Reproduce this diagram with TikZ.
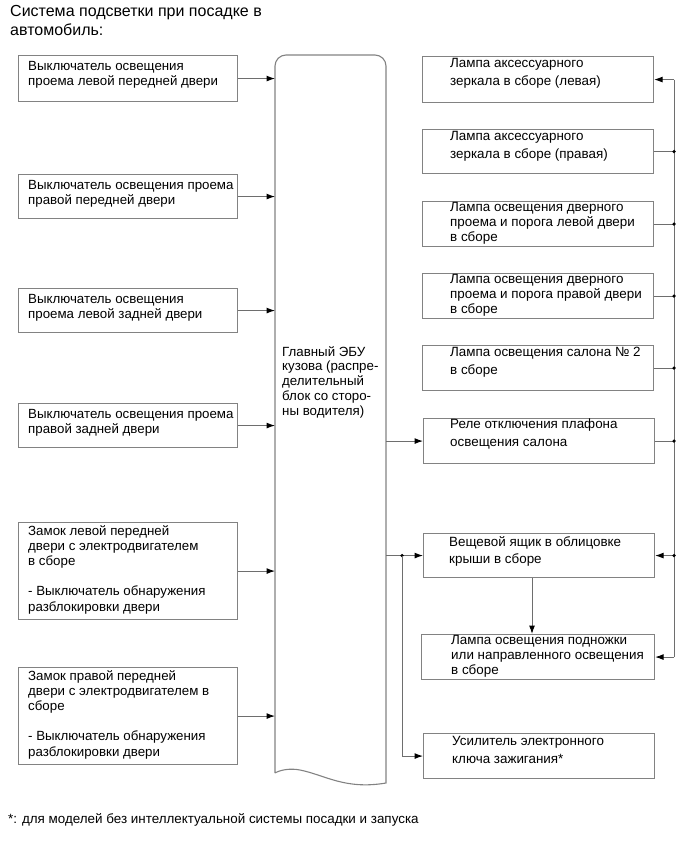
\documentclass[tikz,border=0pt]{standalone}
\usepackage{fontspec}
\setmainfont{Liberation Sans}
\usetikzlibrary{arrows.meta}
\definecolor{bcol}{RGB}{130,130,130}
\definecolor{lcol}{RGB}{110,110,110}
\begin{document}
\begin{tikzpicture}[x=1pt,y=-1pt,
  boxn/.style={draw=bcol, line width=1.1pt, anchor=north west, inner sep=0pt},
  tbase/.style={anchor=north west, inner sep=0pt, align=left, execute at begin node={\rule{0pt}{11pt}}},
  ltxt/.style={tbase, font=\fontsize{13.3pt}{15.2pt}\selectfont},
  rtxt/.style={tbase, font=\fontsize{13.4pt}{17.6pt}\selectfont},
  rtxtt/.style={tbase, font=\fontsize{13.4pt}{15pt}\selectfont},
  conn/.style={draw=lcol, line width=1pt},
  arr/.style={conn, -{Latex[length=8.5pt,width=6pt,color=black]}},
  dot/.style={circle, fill=black, inner sep=0pt, minimum size=3.6pt}
]
\useasboundingbox (0,0) rectangle (690,853);

% title
\node[anchor=north west, inner sep=0pt, align=left, font=\fontsize{16pt}{19.5pt}\selectfont,
  execute at begin node={\rule{0pt}{13pt}}] (title) at (10,5)
  {Система подсветки при посадке в\\автомобиль:};

% ECU
\node[anchor=north west, inner sep=0pt, minimum width=111pt, minimum height=728pt] (ecu) at (275,55) {};
\draw[draw=bcol, line width=1.1pt] (275,773) -- (275,66) arc[start angle=180, end angle=270, radius=11]
  -- (375,55) arc[start angle=270, end angle=360, radius=11] -- (386,783)
  .. controls (345,790) and (325,775) .. (300,770) .. controls (290,768) and (280,770) .. (275,773);
\node[ltxt, font=\fontsize{13.3pt}{14.8pt}\selectfont] (ecut) at (282,346)
  {Главный ЭБУ\\кузова (распре-\\делительный\\блок со сторо-\\ны водителя)};

% left boxes
\node[boxn, minimum width=219pt, minimum height=46pt] (L1) at (18,55) {};
\node[ltxt] (L1t) at ([xshift=10pt,yshift=-6pt]L1.north west) {Выключатель освещения\\проема левой передней двери};
\node[boxn, minimum width=219pt, minimum height=44pt] (L2) at (18,174) {};
\node[ltxt] (L2t) at ([xshift=10pt,yshift=-6pt]L2.north west) {Выключатель освещения проема\\правой передней двери};
\node[boxn, minimum width=219pt, minimum height=44pt] (L3) at (18,288) {};
\node[ltxt] (L3t) at ([xshift=10pt,yshift=-6pt]L3.north west) {Выключатель освещения\\проема левой задней двери};
\node[boxn, minimum width=219pt, minimum height=44pt] (L4) at (18,403) {};
\node[ltxt] (L4t) at ([xshift=10pt,yshift=-6pt]L4.north west) {Выключатель освещения проема\\правой задней двери};
\node[boxn, minimum width=219pt, minimum height=97pt] (L5) at (18,522) {};
\node[ltxt] (L5t) at ([xshift=10pt,yshift=-3pt]L5.north west) {Замок левой передней\\двери с электродвигателем\\в сборе\\[15.2pt]- Выключатель обнаружения\\разблокировки двери};
\node[boxn, minimum width=219pt, minimum height=97pt] (L6) at (18,667) {};
\node[ltxt] (L6t) at ([xshift=10pt,yshift=-3pt]L6.north west) {Замок правой передней\\двери с электродвигателем в\\сборе\\[15.2pt]- Выключатель обнаружения\\разблокировки двери};

\foreach \b in {L1,L2,L3,L4,L5,L6}
  \draw[arr] (\b.east) -- (\b.east -| ecu.west);

% right boxes
\node[boxn, minimum width=231pt, minimum height=46pt] (R1) at (422,56) {};
\node[rtxt] (R1t) at ([xshift=28pt,yshift=-2pt]R1.north west) {Лампа аксессуарного\\зеркала в сборе (левая)};
\node[boxn, minimum width=231pt, minimum height=44pt] (R2) at (422,129) {};
\node[rtxt] (R2t) at ([xshift=28pt,yshift=-2pt]R2.north west) {Лампа аксессуарного\\зеркала в сборе (правая)};
\node[boxn, minimum width=231pt, minimum height=45pt] (R3) at (422,201) {};
\node[rtxtt] (R3t) at ([xshift=28pt,yshift=-1pt]R3.north west) {Лампа освещения дверного\\проема и порога левой двери\\в сборе};
\node[boxn, minimum width=231pt, minimum height=45pt] (R4) at (422,273) {};
\node[rtxtt] (R4t) at ([xshift=28pt,yshift=-1pt]R4.north west) {Лампа освещения дверного\\проема и порога правой двери\\в сборе};
\node[boxn, minimum width=231pt, minimum height=45pt] (R5) at (422,345) {};
\node[rtxt] (R5t) at ([xshift=28pt,yshift=-2pt]R5.north west) {Лампа освещения салона № 2\\в сборе};
\node[boxn, minimum width=231pt, minimum height=45pt] (R6) at (423,418) {};
\node[rtxt] (R6t) at ([xshift=27pt,yshift=-1pt]R6.north west) {Реле отключения плафона\\освещения салона};
\node[boxn, minimum width=231pt, minimum height=44pt] (R7) at (423,533) {};
\node[rtxt] (R7t) at ([xshift=26pt,yshift=-3pt]R7.north west) {Вещевой ящик в облицовке\\крыши в сборе};
\node[boxn, minimum width=233pt, minimum height=45pt] (R8) at (421,634) {};
\node[rtxtt] (R8t) at ([xshift=30pt,yshift=-1pt]R8.north west) {Лампа освещения подножки\\или направленного освещения\\в сборе};
\node[boxn, minimum width=231pt, minimum height=45pt] (R9) at (423,733) {};
\node[rtxt] (R9t) at ([xshift=29pt,yshift=-3pt]R9.north west) {Усилитель электронного\\ключа зажигания*};

% ECU outputs
\draw[arr] (R6.west -| ecu.east) -- (R6.west);
\coordinate (fx) at (402,0);
\draw[arr] (R7.west -| ecu.east) -- (R7.west);
\node[dot] (fd) at (R7.west -| fx) {};
\draw[arr] (fd.center) -- (R9.west -| fx) -- (R9.west);
\coordinate (r7b) at (532,577);
\draw[arr] (r7b |- R7.south) -- (r7b |- R8.north);

% right bus
\coordinate (bx) at (674,0);
\draw[conn] (R1.east -| bx) -- (R8.east -| bx);
\draw[arr] (R1.east -| bx) -- (R1.east);
\draw[arr] (R8.east -| bx) -- (R8.east);
\draw[arr] (R7.east -| bx) -- (R7.east);
\node[dot] (d7) at (R7.east -| bx) {};
\foreach \b in {R2,R3,R4,R5,R6}{
  \draw[conn] (\b.east) -- (\b.east -| bx);
  \node[dot] (d\b) at (\b.east -| bx) {};
}

% footnote
\node[anchor=base west, inner sep=0pt, font=\fontsize{13.4pt}{15pt}\selectfont] (fn) at (8,823)
  {*: для моделей без интеллектуальной системы посадки и запуска};
\end{tikzpicture}
\end{document}
